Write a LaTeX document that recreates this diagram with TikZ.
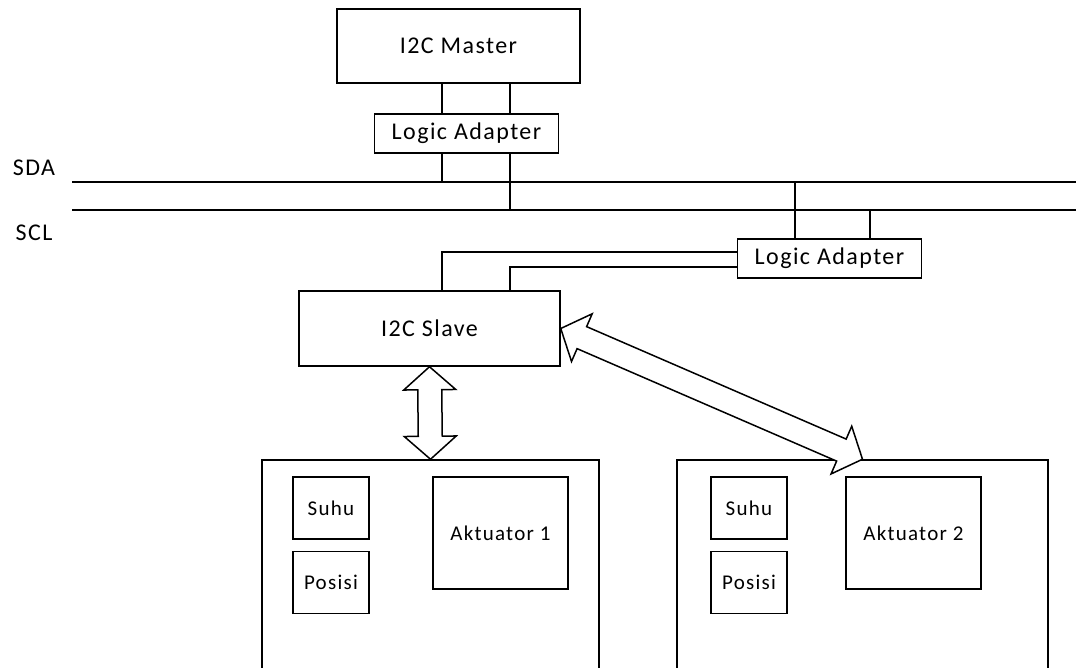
\documentclass[tikz,border=0pt]{standalone}
\usepackage{fontspec}
\setmainfont{Carlito}[LetterSpace=6]
\usetikzlibrary{calc}
\tikzstyle{unit}=[draw, rectangle, line width=1.5pt, inner sep=0pt, font=\fontsize{24}{28}\selectfont]
\tikzstyle{adapter}=[unit, minimum width=184pt, minimum height=39pt]
\tikzstyle{module}=[draw, rectangle, line width=1.5pt, minimum height=240pt]
\tikzstyle{sensor}=[unit, minimum width=76pt, minimum height=62pt, font=\fontsize{21}{25}\selectfont]
\tikzstyle{actuator}=[unit, minimum width=135pt, minimum height=112pt, font=\fontsize{21}{25}\selectfont]
\tikzstyle{bus}=[line width=1.5pt]

% fat hollow two-headed arrow between two points
\newcommand{\linkarrow}[2]{%
  \draw[line width=1.5pt, fill=white, line join=miter]
    let \p1=($(#2)-(#1)$), \n1={atan2(\y1,\x1)}, \n2={veclen(\x1,\y1)} in
    [shift={(#1)}, rotate=\n1]
    (0,0) -- (23,26) -- (23,12) -- (\n2-23,12) -- (\n2-23,26) -- (\n2,0)
    -- (\n2-23,-26) -- (\n2-23,-12) -- (23,-12) -- (23,-26) -- cycle;}

\begin{document}
\begin{tikzpicture}[x=1pt,y=-1pt]
\useasboundingbox (0,0) rectangle (1076,668);
\clip (0,0) rectangle (1076,668);

\node[unit, minimum width=243pt, minimum height=74pt] (master) at (458.5, 46) {I2C Master};
\node[adapter] (adtop) at (466.5, 133.5) {Logic Adapter};
\node[adapter] (adright) at (829.5, 258.5) {Logic Adapter};
\node[unit, minimum width=261pt, minimum height=75pt] (slave) at (429.5, 328.5) {I2C Slave};

% bus lines
\coordinate (sdaL) at (72, 182);
\coordinate (sdaR) at (1076, 182);
\coordinate (sclL) at (72, 210);
\coordinate (sclR) at (1076, 210);
\node[font=\fontsize{24}{28}\selectfont] (sda) at (34, 168) {SDA};
\node[font=\fontsize{24}{28}\selectfont] (scl) at (34, 233) {SCL};
\draw[bus] (sdaL) -- (sdaR);
\draw[bus] (sclL) -- (sclR);

% tap positions
\coordinate (tapA) at (442, 0);
\coordinate (tapB) at (510, 0);
\coordinate (tapC) at (795, 0);
\coordinate (tapD) at (870, 0);
\coordinate (linkA) at (0, 252);
\coordinate (linkB) at (0, 267);

\draw[bus] (master.south -| tapA) -- (adtop.north -| tapA);
\draw[bus] (master.south -| tapB) -- (adtop.north -| tapB);
\draw[bus] (adtop.south -| tapA) -- (sdaL -| tapA);
\draw[bus] (adtop.south -| tapB) -- (sclL -| tapB);
\draw[bus] (sdaL -| tapC) -- (adright.north -| tapC);
\draw[bus] (sclL -| tapD) -- (adright.north -| tapD);
\draw[bus] (adright.west |- linkA) -| (slave.north -| tapA);
\draw[bus] (adright.west |- linkB) -| (slave.north -| tapB);

% actuator modules
\node[module, minimum width=337pt] (box1) at (430.5, 580) {};
\node[sensor] (suhu1) at (331, 508) {Suhu};
\node[sensor] (posisi1) at (331, 582.5) {Posisi};
\node[actuator] (akt1) at (500.5, 533) {Aktuator 1};

\node[module, minimum width=371pt] (box2) at (862.5, 580) {};
\node[sensor] (suhu2) at (749, 508) {Suhu};
\node[sensor] (posisi2) at (749, 582.5) {Posisi};
\node[actuator] (akt2) at (913.5, 533) {Aktuator 2};

\linkarrow{slave.south}{box1.north}
\linkarrow{slave.east}{box2.north}

\end{tikzpicture}
\end{document}
